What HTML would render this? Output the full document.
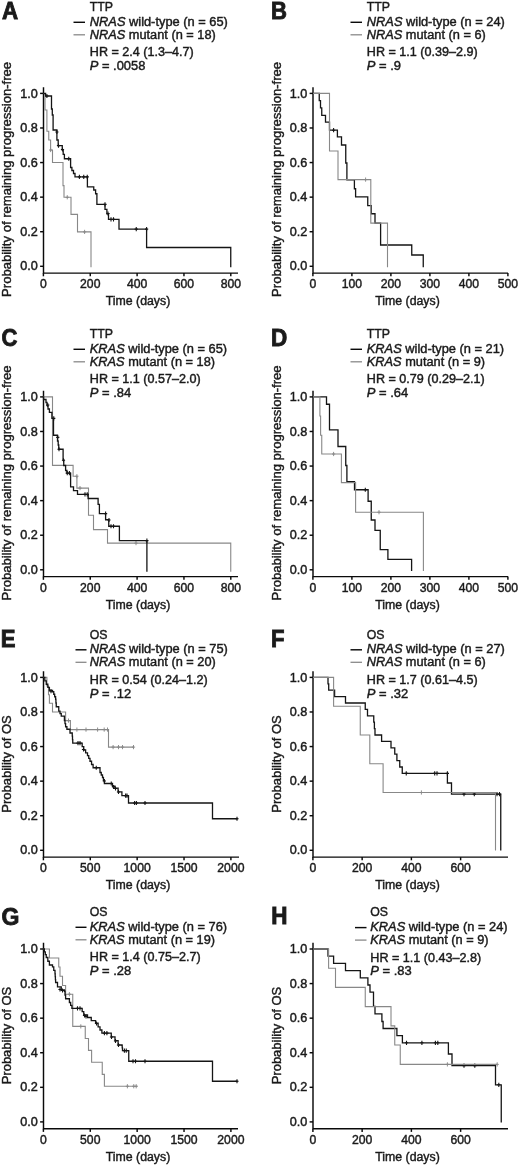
<!DOCTYPE html>
<html><head><meta charset="utf-8"><title>Figure</title>
<style>
html,body{margin:0;padding:0;background:#fff;}
svg{display:block;font-family:"Liberation Sans",sans-serif;fill:#1a1a1a;filter:blur(0.25px);}
text{stroke:#1a1a1a;stroke-width:0.42px;}
</style></head><body>
<svg width="520" height="1166" viewBox="0 0 520 1166">
<rect width="520" height="1166" fill="#fff"/>
<g transform="translate(0,0)">
<text transform="translate(1.89,18.85) scale(0.955,1)" font-size="23.4" font-weight="bold" style="stroke-width:0.9px" >A</text>
<text x="89.8" y="11.2" font-size="12.3" text-anchor="start">TTP</text>
<text x="89.8" y="25.8" font-size="12.3" textLength="138.0" lengthAdjust="spacingAndGlyphs"><tspan font-style="italic">NRAS</tspan> wild-type (n = 65)</text>
<text x="89.8" y="38.8" font-size="12.3" textLength="126.0" lengthAdjust="spacingAndGlyphs"><tspan font-style="italic">NRAS</tspan> mutant (n = 18)</text>
<text x="89.8" y="56.4" font-size="12.3" text-anchor="start" textLength="103.9" lengthAdjust="spacingAndGlyphs">HR = 2.4 (1.3–4.7)</text>
<text x="89.8" y="70.0" font-size="12.3" textLength="55.6" lengthAdjust="spacingAndGlyphs"><tspan font-style="italic">P</tspan> = .0058</text>
<path d="M73.5,22.3H85" stroke="#0a0a0a" stroke-width="1.45" fill="none"/>
<path d="M73.5,34.8H85" stroke="#8a8a8a" stroke-width="1.3" fill="none"/>
</g>
<g transform="translate(0,0)">
<path d="M43.5,87.2V273.1H238" stroke="#0a0a0a" stroke-width="1.45" fill="none"/>
<path d="M43.5,266.30h-3.4" stroke="#0a0a0a" stroke-width="1.45"/>
<text x="37.9" y="270.4" font-size="12.2" text-anchor="end" textLength="17.6" lengthAdjust="spacingAndGlyphs">0.0</text>
<path d="M43.5,231.72h-3.4" stroke="#0a0a0a" stroke-width="1.45"/>
<text x="37.9" y="235.82" font-size="12.2" text-anchor="end" textLength="17.6" lengthAdjust="spacingAndGlyphs">0.2</text>
<path d="M43.5,197.14h-3.4" stroke="#0a0a0a" stroke-width="1.45"/>
<text x="37.9" y="201.24" font-size="12.2" text-anchor="end" textLength="17.6" lengthAdjust="spacingAndGlyphs">0.4</text>
<path d="M43.5,162.56h-3.4" stroke="#0a0a0a" stroke-width="1.45"/>
<text x="37.9" y="166.66" font-size="12.2" text-anchor="end" textLength="17.6" lengthAdjust="spacingAndGlyphs">0.6</text>
<path d="M43.5,127.98h-3.4" stroke="#0a0a0a" stroke-width="1.45"/>
<text x="37.9" y="132.08" font-size="12.2" text-anchor="end" textLength="17.6" lengthAdjust="spacingAndGlyphs">0.8</text>
<path d="M43.5,93.40h-3.4" stroke="#0a0a0a" stroke-width="1.45"/>
<text x="37.9" y="97.5" font-size="12.2" text-anchor="end" textLength="17.6" lengthAdjust="spacingAndGlyphs">1.0</text>
<path d="M43.40,273.1v3.2" stroke="#0a0a0a" stroke-width="1.45"/>
<text x="43.4" y="288.0" font-size="12.2" text-anchor="middle">0</text>
<path d="M90.25,273.1v3.2" stroke="#0a0a0a" stroke-width="1.45"/>
<text x="90.25" y="288.0" font-size="12.2" text-anchor="middle">200</text>
<path d="M137.10,273.1v3.2" stroke="#0a0a0a" stroke-width="1.45"/>
<text x="137.1" y="288.0" font-size="12.2" text-anchor="middle">400</text>
<path d="M183.95,273.1v3.2" stroke="#0a0a0a" stroke-width="1.45"/>
<text x="183.95" y="288.0" font-size="12.2" text-anchor="middle">600</text>
<path d="M230.80,273.1v3.2" stroke="#0a0a0a" stroke-width="1.45"/>
<text x="230.8" y="288.0" font-size="12.2" text-anchor="middle">800</text>
<text x="138" y="305.2" font-size="12.3" text-anchor="middle" textLength="64.5" lengthAdjust="spacingAndGlyphs">Time (days)</text>
<text transform="translate(10.6,179.4) rotate(-90)" font-size="12.9" text-anchor="middle" textLength="235" lengthAdjust="spacingAndGlyphs">Probability of remaining progression-free</text>
<path d="M43.40,93.50H45.00V110.00H46.90V131.25H48.75V140.00H50.60V150.00H52.50V162.50H63.00V185.60H64.00V197.25H71.00V214.40H77.50V231.90H91.00V267.20" stroke="#888" stroke-width="1.1" fill="none" stroke-linejoin="miter"/>
<path d="M50.60,147.90v4.2M49.00,150.00h3.2M67.25,195.15v4.2M65.65,197.25h3.2M84.60,229.80v4.2M83.00,231.90h3.2" stroke="#888" stroke-width="0.94" fill="none"/>
<path d="M43.40,93.50H45.60V96.00H51.50V109.00H52.30V115.00H53.10V130.00H56.90V140.00H58.20V145.60H62.25V150.00H63.20V154.40H64.40V158.75H70.60V167.50H71.90V170.50H73.50V173.50H75.00V176.90H87.40V186.90H93.75V190.00H95.60V193.75H96.90V204.40H105.00V209.40H106.90V213.75H108.50V219.40H119.00V229.10H146.60V247.50H230.75V267.20" stroke="#151515" stroke-width="1.3" fill="none" stroke-linejoin="miter"/>
<path d="M46.90,93.90v4.2M45.30,96.00h3.2M56.90,129.90v4.2M55.30,132.00h3.2M58.50,143.50v4.2M56.90,145.60h3.2M62.50,147.40v4.2M60.90,149.50h3.2M68.75,156.65v4.2M67.15,158.75h3.2M79.40,174.80v4.2M77.80,176.90h3.2M83.75,174.80v4.2M82.15,176.90h3.2M87.25,174.80v4.2M85.65,176.90h3.2M105.00,202.30v4.2M103.40,204.40h3.2M108.00,211.40v4.2M106.40,213.50h3.2M111.00,217.30v4.2M109.40,219.40h3.2M113.50,217.30v4.2M111.90,219.40h3.2M136.25,227.00v4.2M134.65,229.10h3.2M146.60,227.00v4.2M145.00,229.10h3.2" stroke="#151515" stroke-width="1.10" fill="none"/>
</g>
<g transform="translate(277,0)">
<text transform="translate(-5.93,18.85) scale(0.928,1)" font-size="23.84" font-weight="bold" style="stroke-width:0.9px" >B</text>
<text x="89.8" y="11.2" font-size="12.3" text-anchor="start">TTP</text>
<text x="89.8" y="25.8" font-size="12.3" textLength="138.0" lengthAdjust="spacingAndGlyphs"><tspan font-style="italic">NRAS</tspan> wild-type (n = 24)</text>
<text x="89.8" y="38.8" font-size="12.3" textLength="119.0" lengthAdjust="spacingAndGlyphs"><tspan font-style="italic">NRAS</tspan> mutant (n = 6)</text>
<text x="89.8" y="56.4" font-size="12.3" text-anchor="start" textLength="110.9" lengthAdjust="spacingAndGlyphs">HR = 1.1 (0.39–2.9)</text>
<text x="89.8" y="70.0" font-size="12.3" textLength="34.2" lengthAdjust="spacingAndGlyphs"><tspan font-style="italic">P</tspan> = .9</text>
<path d="M73.5,22.3H85" stroke="#0a0a0a" stroke-width="1.45" fill="none"/>
<path d="M73.5,34.8H85" stroke="#8a8a8a" stroke-width="1.3" fill="none"/>
</g>
<g transform="translate(269.5,0)">
<path d="M43.5,87.2V273.1H238.5" stroke="#0a0a0a" stroke-width="1.45" fill="none"/>
<path d="M43.5,266.30h-3.4" stroke="#0a0a0a" stroke-width="1.45"/>
<text x="37.9" y="270.4" font-size="12.2" text-anchor="end" textLength="17.6" lengthAdjust="spacingAndGlyphs">0.0</text>
<path d="M43.5,231.72h-3.4" stroke="#0a0a0a" stroke-width="1.45"/>
<text x="37.9" y="235.82" font-size="12.2" text-anchor="end" textLength="17.6" lengthAdjust="spacingAndGlyphs">0.2</text>
<path d="M43.5,197.14h-3.4" stroke="#0a0a0a" stroke-width="1.45"/>
<text x="37.9" y="201.24" font-size="12.2" text-anchor="end" textLength="17.6" lengthAdjust="spacingAndGlyphs">0.4</text>
<path d="M43.5,162.56h-3.4" stroke="#0a0a0a" stroke-width="1.45"/>
<text x="37.9" y="166.66" font-size="12.2" text-anchor="end" textLength="17.6" lengthAdjust="spacingAndGlyphs">0.6</text>
<path d="M43.5,127.98h-3.4" stroke="#0a0a0a" stroke-width="1.45"/>
<text x="37.9" y="132.08" font-size="12.2" text-anchor="end" textLength="17.6" lengthAdjust="spacingAndGlyphs">0.8</text>
<path d="M43.5,93.40h-3.4" stroke="#0a0a0a" stroke-width="1.45"/>
<text x="37.9" y="97.5" font-size="12.2" text-anchor="end" textLength="17.6" lengthAdjust="spacingAndGlyphs">1.0</text>
<path d="M43.40,273.1v3.2" stroke="#0a0a0a" stroke-width="1.45"/>
<text x="43.4" y="288.0" font-size="12.2" text-anchor="middle">0</text>
<path d="M82.40,273.1v3.2" stroke="#0a0a0a" stroke-width="1.45"/>
<text x="82.4" y="288.0" font-size="12.2" text-anchor="middle">100</text>
<path d="M121.40,273.1v3.2" stroke="#0a0a0a" stroke-width="1.45"/>
<text x="121.4" y="288.0" font-size="12.2" text-anchor="middle">200</text>
<path d="M160.40,273.1v3.2" stroke="#0a0a0a" stroke-width="1.45"/>
<text x="160.4" y="288.0" font-size="12.2" text-anchor="middle">300</text>
<path d="M199.40,273.1v3.2" stroke="#0a0a0a" stroke-width="1.45"/>
<text x="199.4" y="288.0" font-size="12.2" text-anchor="middle">400</text>
<path d="M238.40,273.1v3.2" stroke="#0a0a0a" stroke-width="1.45"/>
<text x="238.4" y="288.0" font-size="12.2" text-anchor="middle">500</text>
<text x="138" y="305.2" font-size="12.3" text-anchor="middle" textLength="64.5" lengthAdjust="spacingAndGlyphs">Time (days)</text>
<text transform="translate(11.2,179.4) rotate(-90)" font-size="12.9" text-anchor="middle" textLength="235" lengthAdjust="spacingAndGlyphs">Probability of remaining progression-free</text>
<path d="M43.50,93.40H49.75V100.60H51.00V107.80H52.25V115.40H56.00V122.20H60.00V130.20H67.90V136.90H72.00V145.00H76.25V163.00H77.40V179.75H84.90V188.75H86.10V196.90H98.25V205.60H101.75V213.75H105.50V223.10H111.10V245.00H142.25V255.00H153.75V267.20" stroke="#151515" stroke-width="1.3" fill="none" stroke-linejoin="miter"/>
<path d="M64.10,128.10v4.2M62.50,130.20h3.2" stroke="#151515" stroke-width="1.10" fill="none"/>
<path d="M43.50,93.40H60.00V151.00H68.50V179.60H101.30V223.10H118.00V267.20" stroke="#888" stroke-width="1.1" fill="none" stroke-linejoin="miter"/>
<path d="M96.10,177.50v4.2M94.50,179.60h3.2" stroke="#888" stroke-width="0.94" fill="none"/>
</g>
<g transform="translate(0,327)">
<text transform="translate(1.55,19.2) scale(0.891,1)" font-size="24.72" font-weight="bold" style="stroke-width:0.9px" >C</text>
<text x="89.8" y="11.2" font-size="12.3" text-anchor="start">TTP</text>
<text x="89.8" y="25.8" font-size="12.3" textLength="137.3" lengthAdjust="spacingAndGlyphs"><tspan font-style="italic">KRAS</tspan> wild-type (n = 65)</text>
<text x="89.8" y="38.8" font-size="12.3" textLength="125.3" lengthAdjust="spacingAndGlyphs"><tspan font-style="italic">KRAS</tspan> mutant (n = 18)</text>
<text x="89.8" y="56.4" font-size="12.3" text-anchor="start" textLength="110.9" lengthAdjust="spacingAndGlyphs">HR = 1.1 (0.57–2.0)</text>
<text x="89.8" y="70.0" font-size="12.3" textLength="41.4" lengthAdjust="spacingAndGlyphs"><tspan font-style="italic">P</tspan> = .84</text>
<path d="M73.5,22.3H85" stroke="#0a0a0a" stroke-width="1.45" fill="none"/>
<path d="M73.5,34.8H85" stroke="#8a8a8a" stroke-width="1.3" fill="none"/>
</g>
<g transform="translate(0,303.5)">
<path d="M43.5,87.2V273.1H238" stroke="#0a0a0a" stroke-width="1.45" fill="none"/>
<path d="M43.5,266.30h-3.4" stroke="#0a0a0a" stroke-width="1.45"/>
<text x="37.9" y="270.4" font-size="12.2" text-anchor="end" textLength="17.6" lengthAdjust="spacingAndGlyphs">0.0</text>
<path d="M43.5,231.72h-3.4" stroke="#0a0a0a" stroke-width="1.45"/>
<text x="37.9" y="235.82" font-size="12.2" text-anchor="end" textLength="17.6" lengthAdjust="spacingAndGlyphs">0.2</text>
<path d="M43.5,197.14h-3.4" stroke="#0a0a0a" stroke-width="1.45"/>
<text x="37.9" y="201.24" font-size="12.2" text-anchor="end" textLength="17.6" lengthAdjust="spacingAndGlyphs">0.4</text>
<path d="M43.5,162.56h-3.4" stroke="#0a0a0a" stroke-width="1.45"/>
<text x="37.9" y="166.66" font-size="12.2" text-anchor="end" textLength="17.6" lengthAdjust="spacingAndGlyphs">0.6</text>
<path d="M43.5,127.98h-3.4" stroke="#0a0a0a" stroke-width="1.45"/>
<text x="37.9" y="132.08" font-size="12.2" text-anchor="end" textLength="17.6" lengthAdjust="spacingAndGlyphs">0.8</text>
<path d="M43.5,93.40h-3.4" stroke="#0a0a0a" stroke-width="1.45"/>
<text x="37.9" y="97.5" font-size="12.2" text-anchor="end" textLength="17.6" lengthAdjust="spacingAndGlyphs">1.0</text>
<path d="M43.40,273.1v3.2" stroke="#0a0a0a" stroke-width="1.45"/>
<text x="43.4" y="288.0" font-size="12.2" text-anchor="middle">0</text>
<path d="M90.25,273.1v3.2" stroke="#0a0a0a" stroke-width="1.45"/>
<text x="90.25" y="288.0" font-size="12.2" text-anchor="middle">200</text>
<path d="M137.10,273.1v3.2" stroke="#0a0a0a" stroke-width="1.45"/>
<text x="137.1" y="288.0" font-size="12.2" text-anchor="middle">400</text>
<path d="M183.95,273.1v3.2" stroke="#0a0a0a" stroke-width="1.45"/>
<text x="183.95" y="288.0" font-size="12.2" text-anchor="middle">600</text>
<path d="M230.80,273.1v3.2" stroke="#0a0a0a" stroke-width="1.45"/>
<text x="230.8" y="288.0" font-size="12.2" text-anchor="middle">800</text>
<text x="138" y="305.2" font-size="12.3" text-anchor="middle" textLength="64.5" lengthAdjust="spacingAndGlyphs">Time (days)</text>
<text transform="translate(10.6,179.4) rotate(-90)" font-size="12.9" text-anchor="middle" textLength="235" lengthAdjust="spacingAndGlyphs">Probability of remaining progression-free</text>
<path d="M43.40,93.40H52.50V161.90H73.10V172.70H76.90V184.60H88.50V211.75H93.50V226.10H107.50V239.60H230.75V268.30" stroke="#888" stroke-width="1.1" fill="none" stroke-linejoin="miter"/>
<path d="M76.90,170.60v4.2M75.30,172.70h3.2M80.00,182.50v4.2M78.40,184.60h3.2M136.00,237.50v4.2M134.40,239.60h3.2" stroke="#888" stroke-width="0.94" fill="none"/>
<path d="M43.40,93.40H43.60V96.00H46.00V99.00H47.00V102.00H48.00V105.50H49.40V108.90H51.90V114.90H53.50V131.75H57.50V137.50H58.20V141.50H58.75V145.75H63.10V156.50H63.75V162.00H65.60V167.00H66.90V169.60H70.60V183.40H73.50V187.10H77.50V190.90H88.10V195.00H98.10V200.90H99.40V210.10H105.60V216.25H108.75V222.75H119.40V237.10H146.90V268.30" stroke="#151515" stroke-width="1.3" fill="none" stroke-linejoin="miter"/>
<path d="M47.75,99.40v4.2M46.15,101.50h3.2M53.75,112.80v4.2M52.15,114.90h3.2M57.75,131.80v4.2M56.15,133.90h3.2M59.00,143.65v4.2M57.40,145.75h3.2M63.50,154.65v4.2M61.90,156.75h3.2M67.25,167.50v4.2M65.65,169.60h3.2M69.40,167.50v4.2M67.80,169.60h3.2M85.00,188.80v4.2M83.40,190.90h3.2M87.25,188.80v4.2M85.65,190.90h3.2M105.60,208.00v4.2M104.00,210.10h3.2M109.00,214.40v4.2M107.40,216.50h3.2M111.00,220.65v4.2M109.40,222.75h3.2M113.50,220.65v4.2M111.90,222.75h3.2M146.90,235.00v4.2M145.30,237.10h3.2" stroke="#151515" stroke-width="1.10" fill="none"/>
</g>
<g transform="translate(277,327)">
<text transform="translate(-5.96,19.15) scale(0.93,1)" font-size="24.2" font-weight="bold" style="stroke-width:0.9px" >D</text>
<text x="89.8" y="11.2" font-size="12.3" text-anchor="start">TTP</text>
<text x="89.8" y="25.8" font-size="12.3" textLength="137.3" lengthAdjust="spacingAndGlyphs"><tspan font-style="italic">KRAS</tspan> wild-type (n = 21)</text>
<text x="89.8" y="38.8" font-size="12.3" textLength="118.3" lengthAdjust="spacingAndGlyphs"><tspan font-style="italic">KRAS</tspan> mutant (n = 9)</text>
<text x="89.8" y="56.4" font-size="12.3" text-anchor="start" textLength="117.9" lengthAdjust="spacingAndGlyphs">HR = 0.79 (0.29–2.1)</text>
<text x="89.8" y="70.0" font-size="12.3" textLength="41.4" lengthAdjust="spacingAndGlyphs"><tspan font-style="italic">P</tspan> = .64</text>
<path d="M73.5,22.3H85" stroke="#0a0a0a" stroke-width="1.45" fill="none"/>
<path d="M73.5,34.8H85" stroke="#8a8a8a" stroke-width="1.3" fill="none"/>
</g>
<g transform="translate(269.5,303.5)">
<path d="M43.5,87.2V273.1H238.5" stroke="#0a0a0a" stroke-width="1.45" fill="none"/>
<path d="M43.5,266.30h-3.4" stroke="#0a0a0a" stroke-width="1.45"/>
<text x="37.9" y="270.4" font-size="12.2" text-anchor="end" textLength="17.6" lengthAdjust="spacingAndGlyphs">0.0</text>
<path d="M43.5,231.72h-3.4" stroke="#0a0a0a" stroke-width="1.45"/>
<text x="37.9" y="235.82" font-size="12.2" text-anchor="end" textLength="17.6" lengthAdjust="spacingAndGlyphs">0.2</text>
<path d="M43.5,197.14h-3.4" stroke="#0a0a0a" stroke-width="1.45"/>
<text x="37.9" y="201.24" font-size="12.2" text-anchor="end" textLength="17.6" lengthAdjust="spacingAndGlyphs">0.4</text>
<path d="M43.5,162.56h-3.4" stroke="#0a0a0a" stroke-width="1.45"/>
<text x="37.9" y="166.66" font-size="12.2" text-anchor="end" textLength="17.6" lengthAdjust="spacingAndGlyphs">0.6</text>
<path d="M43.5,127.98h-3.4" stroke="#0a0a0a" stroke-width="1.45"/>
<text x="37.9" y="132.08" font-size="12.2" text-anchor="end" textLength="17.6" lengthAdjust="spacingAndGlyphs">0.8</text>
<path d="M43.5,93.40h-3.4" stroke="#0a0a0a" stroke-width="1.45"/>
<text x="37.9" y="97.5" font-size="12.2" text-anchor="end" textLength="17.6" lengthAdjust="spacingAndGlyphs">1.0</text>
<path d="M43.40,273.1v3.2" stroke="#0a0a0a" stroke-width="1.45"/>
<text x="43.4" y="288.0" font-size="12.2" text-anchor="middle">0</text>
<path d="M82.40,273.1v3.2" stroke="#0a0a0a" stroke-width="1.45"/>
<text x="82.4" y="288.0" font-size="12.2" text-anchor="middle">100</text>
<path d="M121.40,273.1v3.2" stroke="#0a0a0a" stroke-width="1.45"/>
<text x="121.4" y="288.0" font-size="12.2" text-anchor="middle">200</text>
<path d="M160.40,273.1v3.2" stroke="#0a0a0a" stroke-width="1.45"/>
<text x="160.4" y="288.0" font-size="12.2" text-anchor="middle">300</text>
<path d="M199.40,273.1v3.2" stroke="#0a0a0a" stroke-width="1.45"/>
<text x="199.4" y="288.0" font-size="12.2" text-anchor="middle">400</text>
<path d="M238.40,273.1v3.2" stroke="#0a0a0a" stroke-width="1.45"/>
<text x="238.4" y="288.0" font-size="12.2" text-anchor="middle">500</text>
<text x="138" y="305.2" font-size="12.3" text-anchor="middle" textLength="64.5" lengthAdjust="spacingAndGlyphs">Time (days)</text>
<text transform="translate(11.2,179.4) rotate(-90)" font-size="12.9" text-anchor="middle" textLength="235" lengthAdjust="spacingAndGlyphs">Probability of remaining progression-free</text>
<path d="M43.50,93.40H57.00V100.75H60.00V126.40H68.50V143.00H76.25V162.00H77.40V178.20H85.00V186.25H98.60V197.75H101.75V216.50H105.50V226.90H110.75V246.10H118.40V255.90H142.10V267.50" stroke="#151515" stroke-width="1.3" fill="none" stroke-linejoin="miter"/>
<path d="M95.80,184.15v4.2M94.20,186.25h3.2" stroke="#151515" stroke-width="1.10" fill="none"/>
<path d="M43.50,93.40H50.40V112.50H51.10V131.80H52.25V150.50H71.90V179.10H86.10V208.70H153.90V267.50" stroke="#888" stroke-width="1.1" fill="none" stroke-linejoin="miter"/>
<path d="M64.10,148.40v4.2M62.50,150.50h3.2M109.50,206.60v4.2M107.90,208.70h3.2" stroke="#888" stroke-width="0.94" fill="none"/>
</g>
<g transform="translate(0,627.5)">
<text transform="translate(0.67,19.55) scale(0.927,1)" font-size="23.84" font-weight="bold" style="stroke-width:0.9px" >E</text>
<text x="89.8" y="11.2" font-size="12.3" text-anchor="start">OS</text>
<text x="89.8" y="25.8" font-size="12.3" textLength="138.0" lengthAdjust="spacingAndGlyphs"><tspan font-style="italic">NRAS</tspan> wild-type (n = 75)</text>
<text x="89.8" y="38.8" font-size="12.3" textLength="126.0" lengthAdjust="spacingAndGlyphs"><tspan font-style="italic">NRAS</tspan> mutant (n = 20)</text>
<text x="89.8" y="56.4" font-size="12.3" text-anchor="start" textLength="117.9" lengthAdjust="spacingAndGlyphs">HR = 0.54 (0.24–1.2)</text>
<text x="89.8" y="70.0" font-size="12.3" textLength="41.4" lengthAdjust="spacingAndGlyphs"><tspan font-style="italic">P</tspan> = .12</text>
<path d="M75.5,22.3H86.5" stroke="#0a0a0a" stroke-width="1.45" fill="none"/>
<path d="M75.5,34.8H86.5" stroke="#8a8a8a" stroke-width="1.3" fill="none"/>
</g>
<g transform="translate(0,584)">
<path d="M43.5,87.2V273.1H239" stroke="#0a0a0a" stroke-width="1.45" fill="none"/>
<path d="M43.5,266.30h-3.4" stroke="#0a0a0a" stroke-width="1.45"/>
<text x="37.9" y="270.4" font-size="12.2" text-anchor="end" textLength="17.6" lengthAdjust="spacingAndGlyphs">0.0</text>
<path d="M43.5,231.72h-3.4" stroke="#0a0a0a" stroke-width="1.45"/>
<text x="37.9" y="235.82" font-size="12.2" text-anchor="end" textLength="17.6" lengthAdjust="spacingAndGlyphs">0.2</text>
<path d="M43.5,197.14h-3.4" stroke="#0a0a0a" stroke-width="1.45"/>
<text x="37.9" y="201.24" font-size="12.2" text-anchor="end" textLength="17.6" lengthAdjust="spacingAndGlyphs">0.4</text>
<path d="M43.5,162.56h-3.4" stroke="#0a0a0a" stroke-width="1.45"/>
<text x="37.9" y="166.66" font-size="12.2" text-anchor="end" textLength="17.6" lengthAdjust="spacingAndGlyphs">0.6</text>
<path d="M43.5,127.98h-3.4" stroke="#0a0a0a" stroke-width="1.45"/>
<text x="37.9" y="132.08" font-size="12.2" text-anchor="end" textLength="17.6" lengthAdjust="spacingAndGlyphs">0.8</text>
<path d="M43.5,93.40h-3.4" stroke="#0a0a0a" stroke-width="1.45"/>
<text x="37.9" y="97.5" font-size="12.2" text-anchor="end" textLength="17.6" lengthAdjust="spacingAndGlyphs">1.0</text>
<path d="M43.40,273.1v3.2" stroke="#0a0a0a" stroke-width="1.45"/>
<text x="43.4" y="288.0" font-size="12.2" text-anchor="middle">0</text>
<path d="M90.28,273.1v3.2" stroke="#0a0a0a" stroke-width="1.45"/>
<text x="90.28" y="288.0" font-size="12.2" text-anchor="middle">500</text>
<path d="M137.15,273.1v3.2" stroke="#0a0a0a" stroke-width="1.45"/>
<text x="137.15" y="288.0" font-size="12.2" text-anchor="middle">1000</text>
<path d="M184.03,273.1v3.2" stroke="#0a0a0a" stroke-width="1.45"/>
<text x="184.03" y="288.0" font-size="12.2" text-anchor="middle">1500</text>
<path d="M230.90,273.1v3.2" stroke="#0a0a0a" stroke-width="1.45"/>
<text x="230.9" y="288.0" font-size="12.2" text-anchor="middle">2000</text>
<text x="138" y="305.2" font-size="12.3" text-anchor="middle" textLength="64.5" lengthAdjust="spacingAndGlyphs">Time (days)</text>
<text transform="translate(10.6,180.0) rotate(-90)" font-size="12.9" text-anchor="middle" textLength="97.5" lengthAdjust="spacingAndGlyphs">Probability of OS</text>
<path d="M43.40,93.40H46.90V102.00H48.50V110.70H49.40V119.30H52.50V128.00H65.60V136.60H70.40V145.60H108.50V163.10H133.75V163.10" stroke="#888" stroke-width="1.1" fill="none" stroke-linejoin="miter"/>
<path d="M68.50,134.50v4.2M66.90,136.60h3.2M76.90,143.50v4.2M75.30,145.60h3.2M86.00,143.50v4.2M84.40,145.60h3.2M97.60,143.50v4.2M96.00,145.60h3.2M104.20,143.50v4.2M102.60,145.60h3.2M107.50,143.50v4.2M105.90,145.60h3.2M113.10,161.00v4.2M111.50,163.10h3.2M118.50,161.00v4.2M116.90,163.10h3.2M122.50,161.00v4.2M120.90,163.10h3.2M133.50,161.00v4.2M131.90,163.10h3.2" stroke="#888" stroke-width="0.94" fill="none"/>
<path d="M43.40,93.40H44.83V96.83H46.25V100.25H47.83V103.38H49.40V106.50H52.50V107.75H53.75V110.25H54.67V112.75H55.60V115.25H55.92V119.00H56.25V122.75H58.75V127.10H60.00V129.60H61.25V132.10H64.40V136.50H65.00V139.62H65.60V142.75H66.90V145.25H70.00V149.00H72.25V152.10H72.50V155.60H72.75V159.10H80.60V159.10H82.17V162.55H83.75V166.00H85.62V168.80H87.50V171.60H88.75V174.42H90.00V177.25H91.55V180.50H93.10V183.75H97.50V183.75H100.00V188.50H101.25V191.00H102.50V193.50H103.45V196.50H104.40V199.50H111.25V199.50H112.50V202.25H115.00V204.10H118.10V207.90H121.90V211.60H128.50V211.60H128.50V219.00H212.50V219.00H212.50V234.75H237.50V234.75" stroke="#151515" stroke-width="1.3" fill="none" stroke-linejoin="miter"/>
<path d="M51.00,105.10v4.2M49.40,107.20h3.2M78.00,157.00v4.2M76.40,159.10h3.2M80.00,157.00v4.2M78.40,159.10h3.2M83.50,163.40v4.2M81.90,165.50h3.2M96.25,181.65v4.2M94.65,183.75h3.2M104.40,194.90v4.2M102.80,197.00h3.2M111.25,197.40v4.2M109.65,199.50h3.2M113.50,200.90v4.2M111.90,203.00h3.2M115.50,202.40v4.2M113.90,204.50h3.2M118.50,205.90v4.2M116.90,208.00h3.2M125.60,209.50v4.2M124.00,211.60h3.2M127.00,209.50v4.2M125.40,211.60h3.2M134.60,216.90v4.2M133.00,219.00h3.2M136.40,216.90v4.2M134.80,219.00h3.2M145.00,216.90v4.2M143.40,219.00h3.2M237.00,232.65v4.2M235.40,234.75h3.2" stroke="#151515" stroke-width="1.10" fill="none"/>
</g>
<g transform="translate(277,627.5)">
<text transform="translate(-5.93,19.55) scale(0.91,1)" font-size="24.27" font-weight="bold" style="stroke-width:0.9px" >F</text>
<text x="89.8" y="11.2" font-size="12.3" text-anchor="start">OS</text>
<text x="89.8" y="25.8" font-size="12.3" textLength="138.0" lengthAdjust="spacingAndGlyphs"><tspan font-style="italic">NRAS</tspan> wild-type (n = 27)</text>
<text x="89.8" y="38.8" font-size="12.3" textLength="119.0" lengthAdjust="spacingAndGlyphs"><tspan font-style="italic">NRAS</tspan> mutant (n = 6)</text>
<text x="89.8" y="56.4" font-size="12.3" text-anchor="start" textLength="110.9" lengthAdjust="spacingAndGlyphs">HR = 1.7 (0.61–4.5)</text>
<text x="89.8" y="70.0" font-size="12.3" textLength="41.4" lengthAdjust="spacingAndGlyphs"><tspan font-style="italic">P</tspan> = .32</text>
<path d="M73.5,22.3H85" stroke="#0a0a0a" stroke-width="1.45" fill="none"/>
<path d="M73.5,34.8H85" stroke="#8a8a8a" stroke-width="1.3" fill="none"/>
</g>
<g transform="translate(269.5,584)">
<path d="M43.5,87.2V273.1H238.5" stroke="#0a0a0a" stroke-width="1.45" fill="none"/>
<path d="M43.5,266.30h-3.4" stroke="#0a0a0a" stroke-width="1.45"/>
<text x="37.9" y="270.4" font-size="12.2" text-anchor="end" textLength="17.6" lengthAdjust="spacingAndGlyphs">0.0</text>
<path d="M43.5,231.72h-3.4" stroke="#0a0a0a" stroke-width="1.45"/>
<text x="37.9" y="235.82" font-size="12.2" text-anchor="end" textLength="17.6" lengthAdjust="spacingAndGlyphs">0.2</text>
<path d="M43.5,197.14h-3.4" stroke="#0a0a0a" stroke-width="1.45"/>
<text x="37.9" y="201.24" font-size="12.2" text-anchor="end" textLength="17.6" lengthAdjust="spacingAndGlyphs">0.4</text>
<path d="M43.5,162.56h-3.4" stroke="#0a0a0a" stroke-width="1.45"/>
<text x="37.9" y="166.66" font-size="12.2" text-anchor="end" textLength="17.6" lengthAdjust="spacingAndGlyphs">0.6</text>
<path d="M43.5,127.98h-3.4" stroke="#0a0a0a" stroke-width="1.45"/>
<text x="37.9" y="132.08" font-size="12.2" text-anchor="end" textLength="17.6" lengthAdjust="spacingAndGlyphs">0.8</text>
<path d="M43.5,93.40h-3.4" stroke="#0a0a0a" stroke-width="1.45"/>
<text x="37.9" y="97.5" font-size="12.2" text-anchor="end" textLength="17.6" lengthAdjust="spacingAndGlyphs">1.0</text>
<path d="M43.40,273.1v3.2" stroke="#0a0a0a" stroke-width="1.45"/>
<text x="43.4" y="288.0" font-size="12.2" text-anchor="middle">0</text>
<path d="M92.64,273.1v3.2" stroke="#0a0a0a" stroke-width="1.45"/>
<text x="92.64" y="288.0" font-size="12.2" text-anchor="middle">200</text>
<path d="M141.88,273.1v3.2" stroke="#0a0a0a" stroke-width="1.45"/>
<text x="141.88" y="288.0" font-size="12.2" text-anchor="middle">400</text>
<path d="M191.12,273.1v3.2" stroke="#0a0a0a" stroke-width="1.45"/>
<text x="191.12" y="288.0" font-size="12.2" text-anchor="middle">600</text>
<text x="138" y="305.2" font-size="12.3" text-anchor="middle" textLength="64.5" lengthAdjust="spacingAndGlyphs">Time (days)</text>
<text transform="translate(11.2,180.0) rotate(-90)" font-size="12.9" text-anchor="middle" textLength="97.5" lengthAdjust="spacingAndGlyphs">Probability of OS</text>
<path d="M43.50,93.40H58.50V99.80H59.20V106.20H65.10V112.60H76.00V119.00H95.75V125.40H98.00V131.80H104.25V138.20H104.90V144.60H105.50V151.00H112.10V157.40H121.50V163.80H125.25V170.20H127.40V176.60H130.25V183.00H132.75V189.40H177.90V199.00H182.00V210.10H231.25V266.50" stroke="#151515" stroke-width="1.3" fill="none" stroke-linejoin="miter"/>
<path d="M136.75,187.30v4.2M135.15,189.40h3.2M165.20,187.30v4.2M163.60,189.40h3.2M167.50,187.30v4.2M165.90,189.40h3.2M177.90,187.30v4.2M176.30,189.40h3.2M194.50,208.00v4.2M192.90,210.10h3.2M204.80,208.00v4.2M203.20,210.10h3.2M227.50,208.00v4.2M225.90,210.10h3.2M230.00,208.00v4.2M228.40,210.10h3.2" stroke="#151515" stroke-width="1.10" fill="none"/>
<path d="M43.50,93.40H64.10V122.20H90.75V151.00H100.30V179.80H113.60V208.50H226.00V266.50" stroke="#888" stroke-width="1.1" fill="none" stroke-linejoin="miter"/>
<path d="M151.90,206.40v4.2M150.30,208.50h3.2" stroke="#888" stroke-width="0.94" fill="none"/>
</g>
<g transform="translate(0,905)">
<text transform="translate(1.51,19.9) scale(0.932,1)" font-size="24.72" font-weight="bold" style="stroke-width:0.9px" >G</text>
<text x="89.8" y="11.2" font-size="12.3" text-anchor="start">OS</text>
<text x="89.8" y="25.8" font-size="12.3" textLength="137.3" lengthAdjust="spacingAndGlyphs"><tspan font-style="italic">KRAS</tspan> wild-type (n = 76)</text>
<text x="89.8" y="38.8" font-size="12.3" textLength="125.3" lengthAdjust="spacingAndGlyphs"><tspan font-style="italic">KRAS</tspan> mutant (n = 19)</text>
<text x="89.8" y="56.4" font-size="12.3" text-anchor="start" textLength="110.9" lengthAdjust="spacingAndGlyphs">HR = 1.4 (0.75–2.7)</text>
<text x="89.8" y="70.0" font-size="12.3" textLength="41.4" lengthAdjust="spacingAndGlyphs"><tspan font-style="italic">P</tspan> = .28</text>
<path d="M75.5,22.3H86.5" stroke="#0a0a0a" stroke-width="1.45" fill="none"/>
<path d="M75.5,34.8H86.5" stroke="#8a8a8a" stroke-width="1.3" fill="none"/>
</g>
<g transform="translate(0,855.6)">
<path d="M43.5,87.2V273.1H238" stroke="#0a0a0a" stroke-width="1.45" fill="none"/>
<path d="M43.5,266.30h-3.4" stroke="#0a0a0a" stroke-width="1.45"/>
<text x="37.9" y="270.4" font-size="12.2" text-anchor="end" textLength="17.6" lengthAdjust="spacingAndGlyphs">0.0</text>
<path d="M43.5,231.72h-3.4" stroke="#0a0a0a" stroke-width="1.45"/>
<text x="37.9" y="235.82" font-size="12.2" text-anchor="end" textLength="17.6" lengthAdjust="spacingAndGlyphs">0.2</text>
<path d="M43.5,197.14h-3.4" stroke="#0a0a0a" stroke-width="1.45"/>
<text x="37.9" y="201.24" font-size="12.2" text-anchor="end" textLength="17.6" lengthAdjust="spacingAndGlyphs">0.4</text>
<path d="M43.5,162.56h-3.4" stroke="#0a0a0a" stroke-width="1.45"/>
<text x="37.9" y="166.66" font-size="12.2" text-anchor="end" textLength="17.6" lengthAdjust="spacingAndGlyphs">0.6</text>
<path d="M43.5,127.98h-3.4" stroke="#0a0a0a" stroke-width="1.45"/>
<text x="37.9" y="132.08" font-size="12.2" text-anchor="end" textLength="17.6" lengthAdjust="spacingAndGlyphs">0.8</text>
<path d="M43.5,93.40h-3.4" stroke="#0a0a0a" stroke-width="1.45"/>
<text x="37.9" y="97.5" font-size="12.2" text-anchor="end" textLength="17.6" lengthAdjust="spacingAndGlyphs">1.0</text>
<path d="M43.40,273.1v3.2" stroke="#0a0a0a" stroke-width="1.45"/>
<text x="43.4" y="288.0" font-size="12.2" text-anchor="middle">0</text>
<path d="M90.28,273.1v3.2" stroke="#0a0a0a" stroke-width="1.45"/>
<text x="90.28" y="288.0" font-size="12.2" text-anchor="middle">500</text>
<path d="M137.15,273.1v3.2" stroke="#0a0a0a" stroke-width="1.45"/>
<text x="137.15" y="288.0" font-size="12.2" text-anchor="middle">1000</text>
<path d="M184.03,273.1v3.2" stroke="#0a0a0a" stroke-width="1.45"/>
<text x="184.03" y="288.0" font-size="12.2" text-anchor="middle">1500</text>
<path d="M230.90,273.1v3.2" stroke="#0a0a0a" stroke-width="1.45"/>
<text x="230.9" y="288.0" font-size="12.2" text-anchor="middle">2000</text>
<text x="138" y="305.2" font-size="12.3" text-anchor="middle" textLength="64.5" lengthAdjust="spacingAndGlyphs">Time (days)</text>
<text transform="translate(10.6,180.0) rotate(-90)" font-size="12.9" text-anchor="middle" textLength="97.5" lengthAdjust="spacingAndGlyphs">Probability of OS</text>
<path d="M43.40,93.40H49.40V102.40H58.75V111.40H60.00V120.65H62.50V129.90H65.60V138.60H72.75V170.80H85.25V182.90H88.50V194.80H91.60V206.65H102.25V218.80H104.40V230.65H137.40V230.65" stroke="#888" stroke-width="1.1" fill="none" stroke-linejoin="miter"/>
<path d="M69.40,136.50v4.2M67.80,138.60h3.2M80.80,168.70v4.2M79.20,170.80h3.2M127.40,228.55v4.2M125.80,230.65h3.2M133.75,228.55v4.2M132.15,230.65h3.2M136.20,228.55v4.2M134.60,230.65h3.2" stroke="#888" stroke-width="0.94" fill="none"/>
<path d="M43.40,93.40H44.35V96.23H45.30V99.07H46.25V101.90H47.83V105.65H49.40V109.40H52.50V111.30H53.75V114.73H55.00V118.15H55.20V121.07H55.40V123.98H55.60V126.90H57.50V131.30H61.25V134.40H64.40V135.65H65.00V139.40H65.60V143.15H69.40V146.90H70.65V149.80H71.90V152.70H80.60V152.70H82.17V156.05H83.75V159.40H87.50V161.90H91.25V165.00H95.60V167.50H98.10V171.30H100.00V174.40H101.90V177.50H108.10V177.50H111.25V181.30H115.00V185.00H118.10V189.40H121.90V189.65H122.20V192.32H122.50V195.00H128.75V195.00H128.75V205.65H212.50V205.65H212.50V225.65H237.50V225.65" stroke="#151515" stroke-width="1.3" fill="none" stroke-linejoin="miter"/>
<path d="M60.00,131.80v4.2M58.40,133.90h3.2M62.50,132.80v4.2M60.90,134.90h3.2M77.50,150.60v4.2M75.90,152.70h3.2M80.00,150.60v4.2M78.40,152.70h3.2M84.50,157.80v4.2M82.90,159.90h3.2M86.00,158.80v4.2M84.40,160.90h3.2M96.50,165.80v4.2M94.90,167.90h3.2M104.40,175.40v4.2M102.80,177.50h3.2M106.90,175.40v4.2M105.30,177.50h3.2M111.50,179.30v4.2M109.90,181.40h3.2M115.50,183.30v4.2M113.90,185.40h3.2M118.50,187.30v4.2M116.90,189.40h3.2M124.40,192.90v4.2M122.80,195.00h3.2M126.25,192.90v4.2M124.65,195.00h3.2M133.00,203.55v4.2M131.40,205.65h3.2M135.50,203.55v4.2M133.90,205.65h3.2M145.00,203.55v4.2M143.40,205.65h3.2M237.00,223.55v4.2M235.40,225.65h3.2" stroke="#151515" stroke-width="1.10" fill="none"/>
</g>
<g transform="translate(280.5,905.3)">
<text transform="translate(-9.15,18.95) scale(0.948,1)" font-size="23.69" font-weight="bold" style="stroke-width:0.9px" >H</text>
<text x="89.8" y="11.2" font-size="12.3" text-anchor="start">OS</text>
<text x="89.8" y="25.8" font-size="12.3" textLength="137.3" lengthAdjust="spacingAndGlyphs"><tspan font-style="italic">KRAS</tspan> wild-type (n = 24)</text>
<text x="89.8" y="38.8" font-size="12.3" textLength="118.3" lengthAdjust="spacingAndGlyphs"><tspan font-style="italic">KRAS</tspan> mutant (n = 9)</text>
<text x="89.8" y="56.4" font-size="12.3" text-anchor="start" textLength="110.9" lengthAdjust="spacingAndGlyphs">HR = 1.1 (0.43–2.8)</text>
<text x="89.8" y="70.0" font-size="12.3" textLength="41.4" lengthAdjust="spacingAndGlyphs"><tspan font-style="italic">P</tspan> = .83</text>
<path d="M74.5,22.3H86" stroke="#0a0a0a" stroke-width="1.45" fill="none"/>
<path d="M74.5,34.8H86" stroke="#8a8a8a" stroke-width="1.3" fill="none"/>
</g>
<g transform="translate(269.5,855.6)">
<path d="M43.5,87.2V273.1H238.5" stroke="#0a0a0a" stroke-width="1.45" fill="none"/>
<path d="M43.5,266.30h-3.4" stroke="#0a0a0a" stroke-width="1.45"/>
<text x="37.9" y="270.4" font-size="12.2" text-anchor="end" textLength="17.6" lengthAdjust="spacingAndGlyphs">0.0</text>
<path d="M43.5,231.72h-3.4" stroke="#0a0a0a" stroke-width="1.45"/>
<text x="37.9" y="235.82" font-size="12.2" text-anchor="end" textLength="17.6" lengthAdjust="spacingAndGlyphs">0.2</text>
<path d="M43.5,197.14h-3.4" stroke="#0a0a0a" stroke-width="1.45"/>
<text x="37.9" y="201.24" font-size="12.2" text-anchor="end" textLength="17.6" lengthAdjust="spacingAndGlyphs">0.4</text>
<path d="M43.5,162.56h-3.4" stroke="#0a0a0a" stroke-width="1.45"/>
<text x="37.9" y="166.66" font-size="12.2" text-anchor="end" textLength="17.6" lengthAdjust="spacingAndGlyphs">0.6</text>
<path d="M43.5,127.98h-3.4" stroke="#0a0a0a" stroke-width="1.45"/>
<text x="37.9" y="132.08" font-size="12.2" text-anchor="end" textLength="17.6" lengthAdjust="spacingAndGlyphs">0.8</text>
<path d="M43.5,93.40h-3.4" stroke="#0a0a0a" stroke-width="1.45"/>
<text x="37.9" y="97.5" font-size="12.2" text-anchor="end" textLength="17.6" lengthAdjust="spacingAndGlyphs">1.0</text>
<path d="M43.40,273.1v3.2" stroke="#0a0a0a" stroke-width="1.45"/>
<text x="43.4" y="288.0" font-size="12.2" text-anchor="middle">0</text>
<path d="M92.64,273.1v3.2" stroke="#0a0a0a" stroke-width="1.45"/>
<text x="92.64" y="288.0" font-size="12.2" text-anchor="middle">200</text>
<path d="M141.88,273.1v3.2" stroke="#0a0a0a" stroke-width="1.45"/>
<text x="141.88" y="288.0" font-size="12.2" text-anchor="middle">400</text>
<path d="M191.12,273.1v3.2" stroke="#0a0a0a" stroke-width="1.45"/>
<text x="191.12" y="288.0" font-size="12.2" text-anchor="middle">600</text>
<text x="138" y="305.2" font-size="12.3" text-anchor="middle" textLength="64.5" lengthAdjust="spacingAndGlyphs">Time (days)</text>
<text transform="translate(11.2,180.0) rotate(-90)" font-size="12.9" text-anchor="middle" textLength="97.5" lengthAdjust="spacingAndGlyphs">Probability of OS</text>
<path d="M43.50,93.40H58.50V100.60H64.10V107.80H76.00V115.00H90.80V122.20H98.40V129.40H100.50V136.60H104.00V150.80H105.50V158.20H112.40V165.90H113.60V172.90H127.40V180.00H132.90V187.20H178.90V198.40H182.50V210.00H226.00V229.20H231.75V266.90" stroke="#151515" stroke-width="1.3" fill="none" stroke-linejoin="miter"/>
<path d="M137.00,185.10v4.2M135.40,187.20h3.2M152.40,185.10v4.2M150.80,187.20h3.2M165.90,185.10v4.2M164.30,187.20h3.2M168.30,185.10v4.2M166.70,187.20h3.2M194.50,207.90v4.2M192.90,210.00h3.2M205.30,207.90v4.2M203.70,210.00h3.2M229.30,227.10v4.2M227.70,229.20h3.2" stroke="#151515" stroke-width="1.10" fill="none"/>
<path d="M43.50,93.40H59.10V112.60H66.00V131.80H95.75V151.00H121.50V170.30H125.25V189.40H130.75V208.80H227.70V208.80" stroke="#888" stroke-width="1.1" fill="none" stroke-linejoin="miter"/>
<path d="M177.90,206.70v4.2M176.30,208.80h3.2M227.70,206.70v4.2M226.10,208.80h3.2" stroke="#888" stroke-width="0.94" fill="none"/>
</g>
</svg>
</body></html>
